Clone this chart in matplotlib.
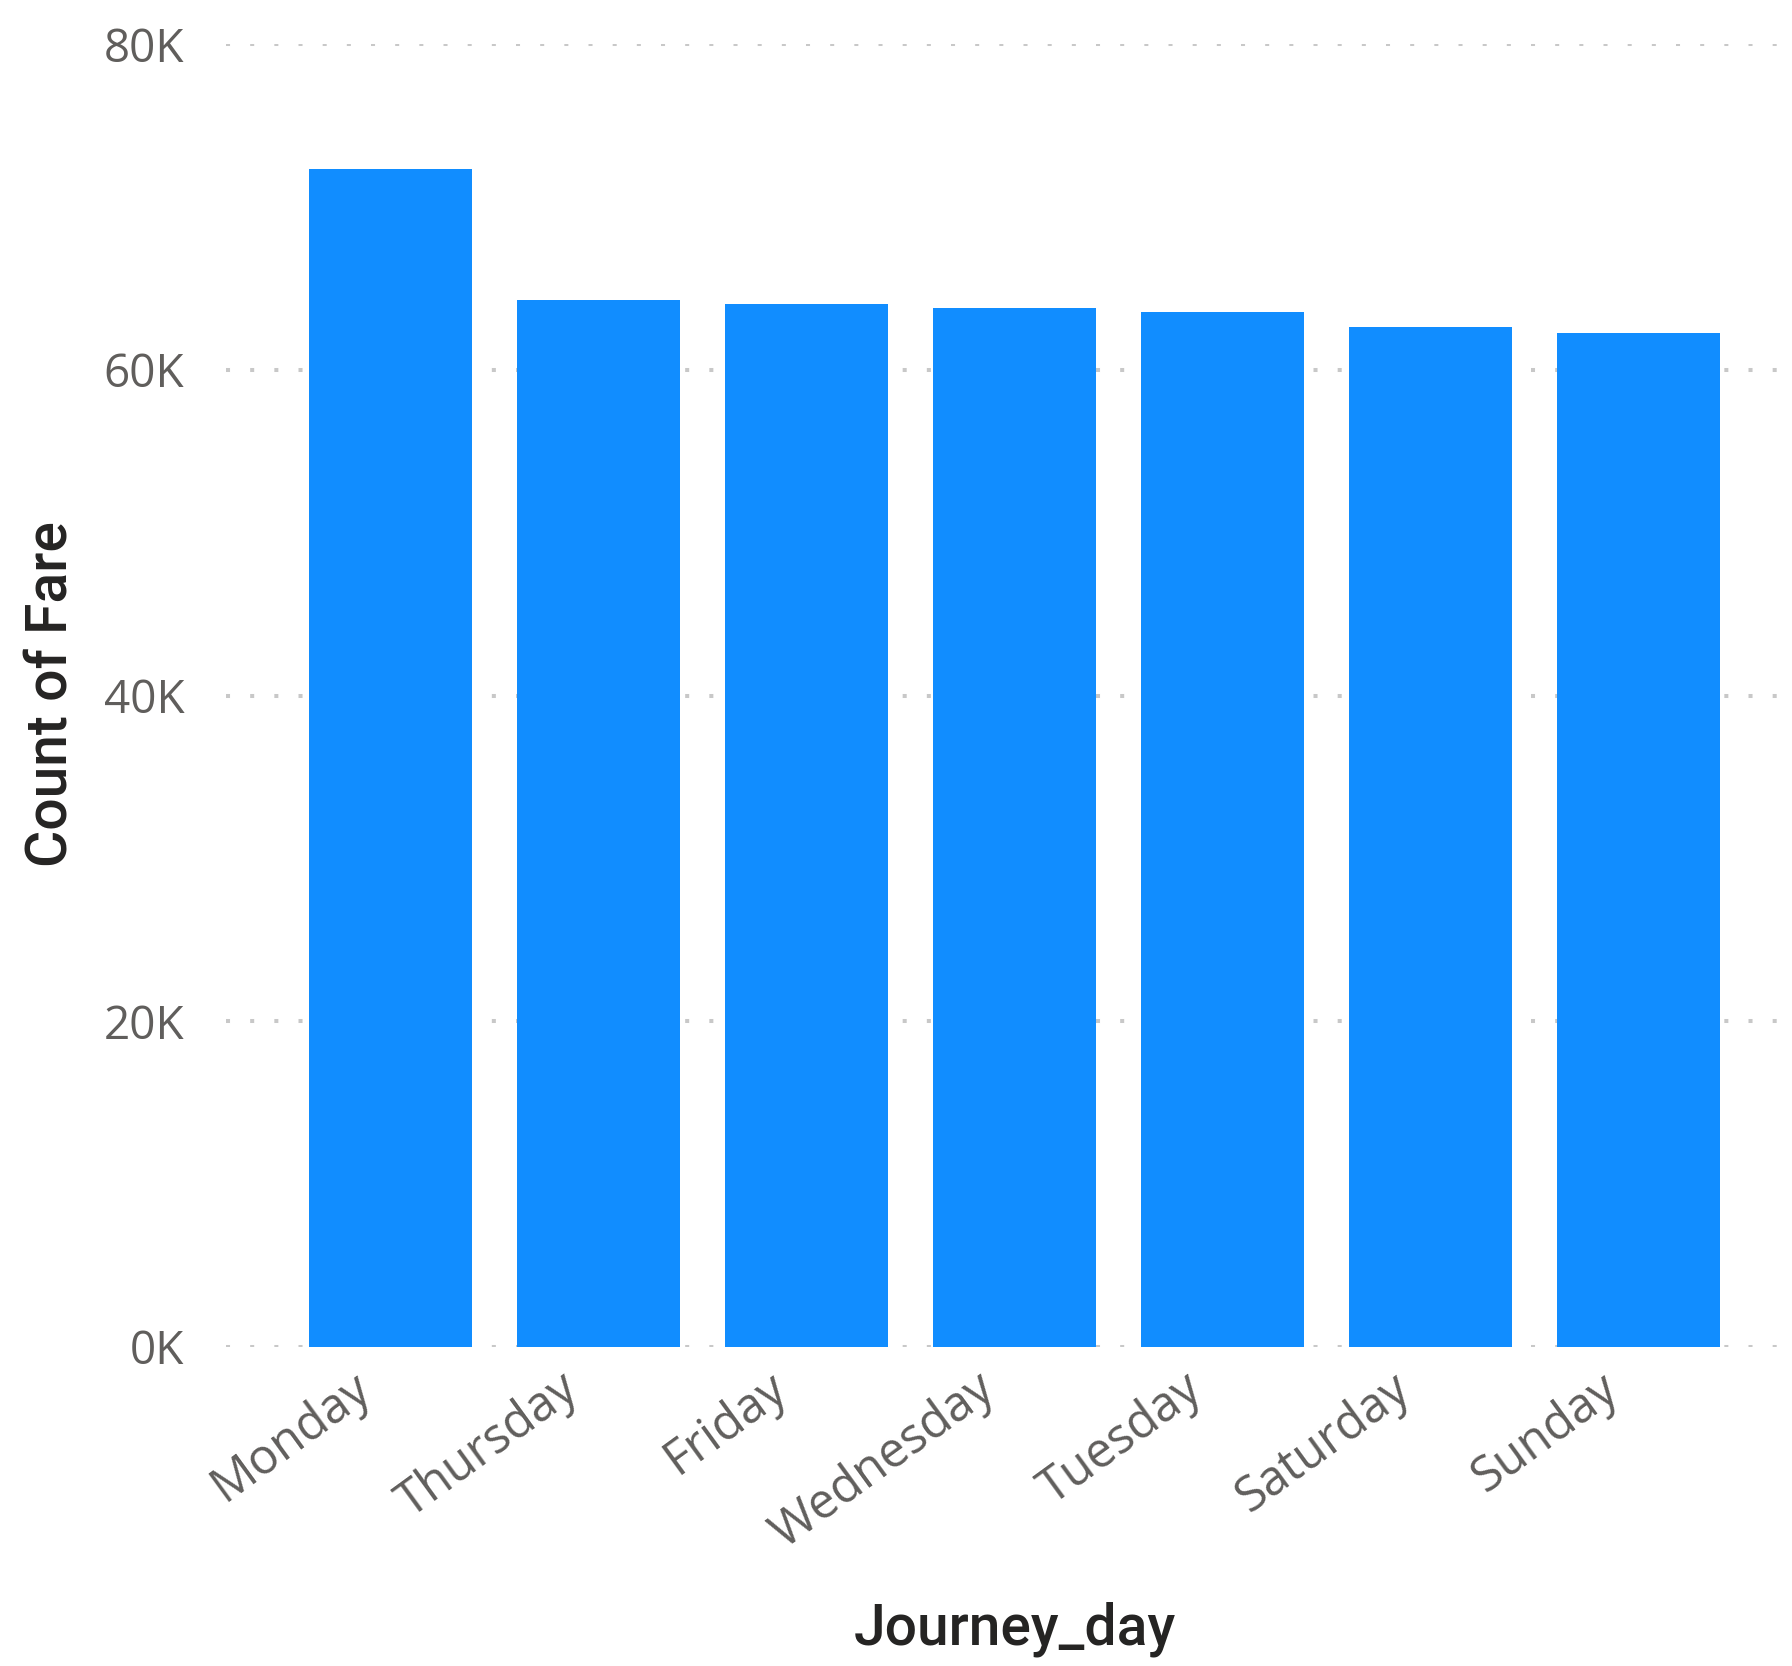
import matplotlib
matplotlib.use("Agg")
import matplotlib.pyplot as plt
from matplotlib.ticker import FuncFormatter

days = ["Monday", "Thursday", "Friday", "Wednesday", "Tuesday", "Saturday", "Sunday"]
fare_counts = [72320, 64270, 64030, 63780, 63530, 62610, 62270]
y_ticks = [0, 20000, 40000, 60000, 80000]

plt.rcParams["font.family"] = ["Open Sans", "DejaVu Sans"]

fig = plt.figure(figsize=(17.92, 16.66), dpi=100)
ax = fig.add_axes([0.126, 0.1915, 0.874, 0.782])

x = list(range(len(days)))
ax.bar(x, fare_counts, width=0.784, color="#118DFF", zorder=2)

ax.set_xlim(-0.79, 6.74)
ax.set_ylim(0, 80000)
ax.set_yticks(y_ticks)
ax.yaxis.set_major_formatter(FuncFormatter(lambda v, p: f"{int(v / 1000)}K"))
# day names end a little left of each bar centre
ax.set_xticks([i - 0.19 for i in x])
ax.set_xticklabels(days, rotation=36, ha="right", rotation_mode="anchor")

ax.grid(axis="y", color="#c8c8c8", linewidth=2.9, linestyle=(0, (1, 5)),
        dash_capstyle="butt", zorder=0)
ax.set_axisbelow(True)
for s in ax.spines.values():
    s.set_visible(False)
ax.tick_params(axis="both", length=0, labelcolor="#605E5C")
ax.tick_params(axis="y", pad=30, labelsize=33)
ax.tick_params(axis="x", pad=12, labelsize=35)

title_font = dict(fontsize=41, color="#252423", family=["Roboto", "DejaVu Sans"],
                  fontweight="medium")
fig.text(0.0285, 0.5834, "Count of Fare", rotation=90, ha="center", va="center",
         **title_font)
fig.text(0.5664, 0.0222, "Journey_day", ha="center", va="center", **title_font)

fig.savefig("out.png", dpi=100)
